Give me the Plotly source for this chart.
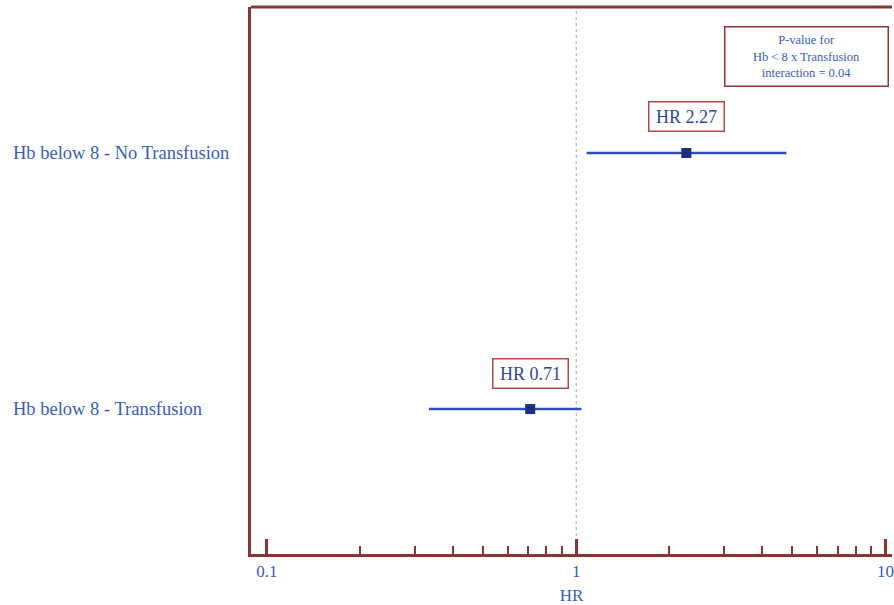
import plotly.graph_objects as go
import numpy as np

# Forest plot data
groups = ["Hb below 8 - No Transfusion", "Hb below 8 - Transfusion"]
hr = [2.27, 0.71]
ci_low = [1.08, 0.334]
ci_high = [4.78, 1.04]
row_pos = [2, 1]
hr_labels = ["HR 2.27", "HR 0.71"]

major_ticks = [0.1, 1, 10]
major_text = ["0.1", "1", "10"]
minor_ticks = [0.2, 0.3, 0.4, 0.5, 0.6, 0.7, 0.8, 0.9,
               2, 3, 4, 5, 6, 7, 8, 9]

note_text = "P-value for<br>Hb < 8 x Transfusion<br>interaction = 0.04"

frame_col = "#8b3434"
text_blue = "#3a5cb8"
line_blue = "#2f4fb5"
marker_col = "#1c2f80"
serif = "Liberation Serif"

fig = go.Figure()

# Confidence intervals
for y, lo, hi in zip(row_pos, ci_low, ci_high):
    fig.add_trace(go.Scatter(
        x=[lo, hi], y=[y, y], mode="lines",
        line=dict(color=line_blue, width=2.5),
        hoverinfo="skip", showlegend=False))

# Point estimates
fig.add_trace(go.Scatter(
    x=hr, y=row_pos, mode="markers",
    marker=dict(symbol="square", size=10, color=marker_col),
    showlegend=False))

# Reference line at HR = 1
fig.add_shape(type="line", xref="x", yref="paper", x0=1, x1=1, y0=0, y1=1,
              line=dict(color="#8aaae8", width=1, dash="dot"), layer="below")

# Top border of the frame
fig.add_shape(type="line", xref="paper", yref="paper", x0=0, x1=1, y0=1, y1=1,
              line=dict(color=frame_col, width=3))

# HR value boxes above each estimate
for y, v, txt in zip(row_pos, hr, hr_labels):
    fig.add_annotation(x=np.log10(v), y=y, text=txt, showarrow=False,
                       yshift=36, width=66, height=20,
                       font=dict(family=serif, size=18, color="#2e4a8c"),
                       bordercolor="#b04a4a", borderwidth=1.5, borderpad=4,
                       bgcolor="white")

# Group labels on the left
for y, g in zip(row_pos, groups):
    fig.add_annotation(xref="paper", x=-0.375, y=y, text=g, showarrow=False,
                       xanchor="left", font=dict(family=serif, size=18.5, color=text_blue))

# Interaction note box
fig.add_annotation(xref="paper", yref="paper", x=0.866, y=0.966, text=note_text,
                   showarrow=False, xanchor="center", yanchor="top", align="center",
                   width=154, height=50,
                   font=dict(family=serif, size=12.5, color=text_blue),
                   bordercolor=frame_col, borderwidth=1.5, borderpad=4,
                   bgcolor="white")

fig.update_xaxes(
    type="log", range=[-1.0515, 1.021],
    tickmode="array", tickvals=major_ticks, ticktext=major_text,
    ticks="inside", ticklen=15, tickwidth=3, tickcolor=frame_col,
    minor=dict(tickmode="array", tickvals=minor_ticks, ticks="inside",
               ticklen=8, tickwidth=1.5, tickcolor=frame_col, showgrid=False),
    showline=True, linecolor=frame_col, linewidth=3,
    showgrid=False, zeroline=False,
    ticklabeloverflow="allow",
    tickfont=dict(family=serif, size=17, color=text_blue),
    title=dict(text="HR", font=dict(family=serif, size=17, color=text_blue), standoff=11),
)
fig.update_yaxes(
    range=[0.434, 2.57], showticklabels=False, ticks="",
    showline=True, linecolor=frame_col, linewidth=3,
    showgrid=False, zeroline=False,
)

fig.update_layout(
    width=894, height=605,
    margin=dict(l=251, r=0, t=7, b=51),
    plot_bgcolor="white", paper_bgcolor="white",
)

fig.write_html("out.html")
